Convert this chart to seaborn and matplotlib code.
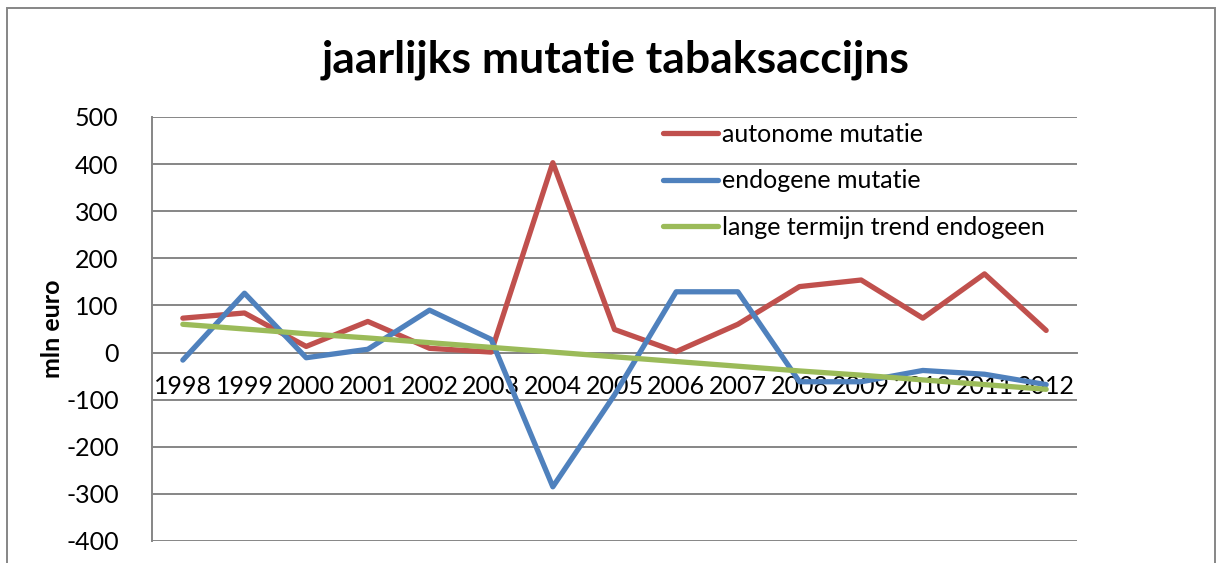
import numpy as np
import pandas as pd
import matplotlib.pyplot as plt
import seaborn as sns
from matplotlib.patches import Rectangle

# -------------------------------
# Data
# -------------------------------
years = ["1998", "1999", "2000", "2001", "2002", "2003", "2004", "2005",
         "2006", "2007", "2008", "2009", "2010", "2011", "2012"]
autonoom = [73, 84, 13, 66, 9, 1, 403, 49, 2, 60, 140, 154, 73, 167, 47]
endogeen = [-16, 126, -11, 7, 90, 28, -285, -90, 129, 129, -62, -62, -38, -46, -68]
trend = [60, 50, 40, 31, 21, 11, 1, -9, -19, -29, -39, -48, -58, -68, -78]

series_names = ["autonome mutatie", "endogene mutatie", "lange termijn trend endogeen"]
colors = ["#C0504D", "#4F81BD", "#9BBB59"]

df = pd.DataFrame({
    "Jaar": years * 3,
    "Waarde": autonoom + endogeen + trend,
    "Reeks": [series_names[0]] * 15 + [series_names[1]] * 15 + [series_names[2]] * 15,
})
df["x"] = list(range(15)) * 3

# -------------------------------
# Plot
# -------------------------------
sns.set_style("white")
plt.rcParams["font.family"] = ["Lato", "DejaVu Sans"]
plt.rcParams["axes.unicode_minus"] = False
plt.rcParams["text.color"] = "black"
plt.rcParams["xtick.color"] = "black"
plt.rcParams["ytick.color"] = "black"
plt.rcParams["axes.labelcolor"] = "black"

fig = plt.figure(figsize=(12.19, 5.63), dpi=100)
ax = fig.add_axes([152 / 1219, 22 / 563, 925 / 1219, 424 / 563])

sns.lineplot(data=df, x="x", y="Waarde", hue="Reeks", palette=colors,
             linewidth=3.8, ax=ax, zorder=3, legend=True)

ax.set_xlim(-0.5, 14.5)
ax.set_ylim(-400, 500)
ax.set_yticks(range(-400, 501, 100))
ax.set_xticks(range(15))
ax.set_xticklabels(years)
ax.yaxis.grid(True, color="#868686", linewidth=1.4)
ax.xaxis.grid(False)

for s in ["top", "right"]:
    ax.spines[s].set_visible(False)
ax.spines["left"].set_color("#868686")
ax.spines["left"].set_linewidth(1.4)
ax.spines["bottom"].set_position(("data", 0))
ax.spines["bottom"].set_color("#868686")
ax.spines["bottom"].set_linewidth(1.4)

ax.tick_params(axis="y", length=0, pad=24, labelsize=18)
ax.tick_params(axis="x", length=0, pad=16, labelsize=18)

ax.set_xlabel("")
ax.set_ylabel("mln euro", fontsize=18, fontweight="bold")
ax.yaxis.set_label_coords(-0.095, 0.5)

fig.suptitle("jaarlijks mutatie tabaksaccijns", fontsize=32, fontweight="bold",
             x=0.505, y=0.93)

leg = ax.legend(loc="upper left", bbox_to_anchor=(0.536, 1.022), frameon=False,
                fontsize=18, handlelength=2.2, handletextpad=0.15,
                labelspacing=0.95, borderaxespad=0.2)
for line in leg.get_lines():
    line.set_linewidth(3.8)

# outer chart border
fig.add_artist(Rectangle((7 / 1219, -0.1), 1208 / 1219, 1.1 - 8 / 563,
                         transform=fig.transFigure, fill=False,
                         edgecolor="#868686", linewidth=1.4))

fig.savefig("out.png", dpi=100)
